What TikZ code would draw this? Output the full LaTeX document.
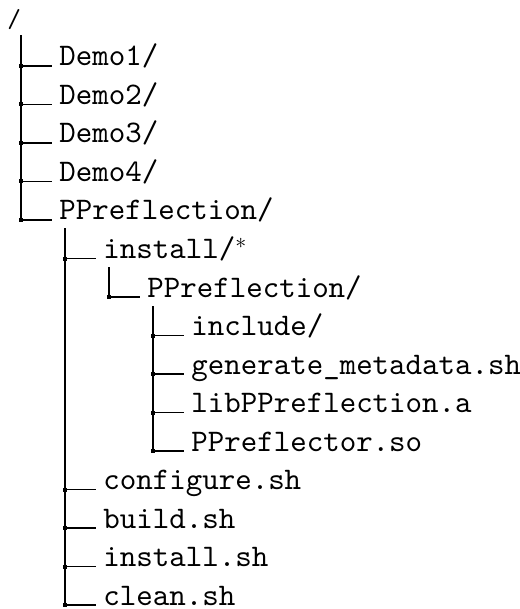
\documentclass[tikz,border=0pt]{standalone}
\usepackage{fontspec}
\newfontfamily\dirfont[Extension=.otf]{lmmono10-regular}

\tikzset{
  treeline/.style={line width=0.6pt, black},
  entry/.style={anchor=base west, inner xsep=3.5pt, inner ysep=0pt,
    font=\fontsize{15.7}{18}\selectfont\dirfont},
  rootname/.style={anchor=base west, inner sep=0pt,
    font=\fontsize{13}{15}\selectfont\dirfont},
}

% one entry of the tree: name, x of its parent's trunk, y of its row, text
\newcommand{\treeitem}[4]{%
  \coordinate (#1j) at (#2,#3);
  \node[entry] (#1) at (#2+31,#3) {#4};
  \draw[treeline] (#1j) -- (#1.base west);
  \fill (#2-2,#3-2) rectangle (#2+2,#3+2);
}

\begin{document}
\begin{tikzpicture}[x=0.5pt,y=-0.5pt]
  \useasboundingbox (0,0) rectangle (519,609);

  \node[rootname] (root) at (7,28) {/};

  % top level
  \treeitem{demoA}{21}{66}{Demo1/}
  \treeitem{demoB}{21}{104.5}{Demo2/}
  \treeitem{demoC}{21}{143}{Demo3/}
  \treeitem{demoD}{21}{181.5}{Demo4/}
  \treeitem{pp}{21}{220}{PPreflection/}

  % inside PPreflection/
  \treeitem{inst}{65}{258.5}{install/$^*$}
  \treeitem{instpp}{109}{297}{PPreflection/}
  \treeitem{incl}{153}{335.5}{include/}
  \treeitem{gen}{153}{374}{generate\_metadata.sh}
  \treeitem{lib}{153}{412.5}{libPPreflection.a}
  \treeitem{so}{153}{451}{PPreflector.so}
  \treeitem{conf}{65}{489.5}{configure.sh}
  \treeitem{build}{65}{528}{build.sh}
  \treeitem{instsh}{65}{566.5}{install.sh}
  \treeitem{clean}{65}{605}{clean.sh}

  % trunks
  \coordinate (rootT) at (21,35.5);
  \coordinate (ppT) at (65,228);
  \coordinate (instT) at (109,267);
  \coordinate (instppT) at (153,306);
  \draw[treeline] (rootT) -- (ppj);
  \draw[treeline] (ppT) -- (cleanj);
  \draw[treeline] (instT) -- (instppj);
  \draw[treeline] (instppT) -- (soj);
\end{tikzpicture}
\end{document}
